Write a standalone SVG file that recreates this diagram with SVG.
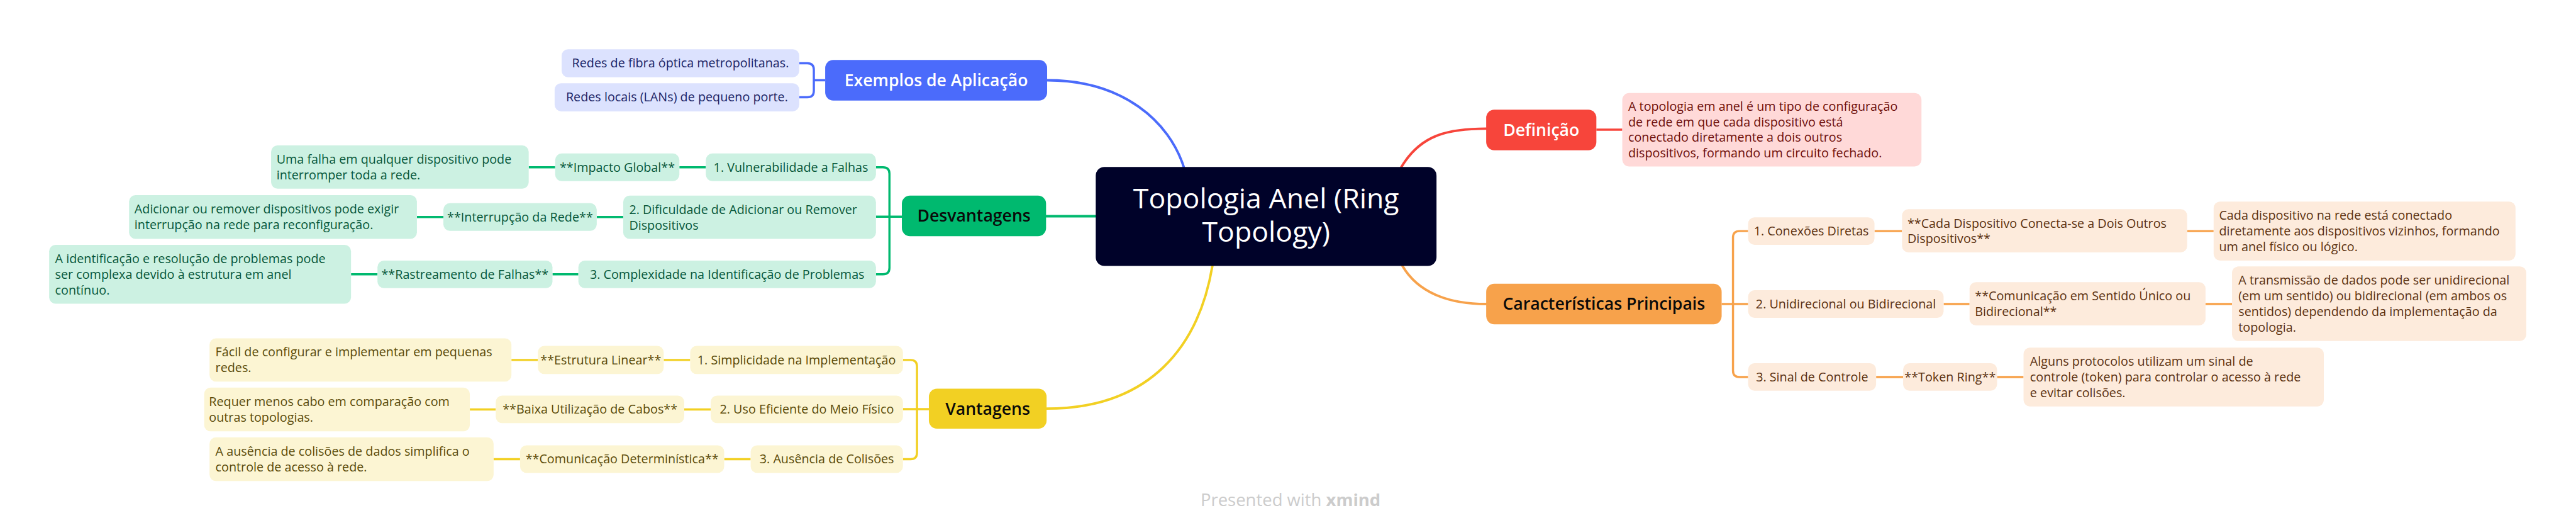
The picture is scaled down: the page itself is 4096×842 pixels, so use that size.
<svg xmlns="http://www.w3.org/2000/svg" width="4096" height="842" viewBox="0 0 4096 842">
<style>
text{font-family:"Open Sans","Liberation Sans",sans-serif}
.c{fill:none;stroke-width:4.5;stroke-linecap:round}
.s{fill:none;stroke-width:4;stroke-linecap:butt}
.cb{stroke:#4B6BFB}.cr{stroke:#F7453B}.co{stroke:#F7A24B}.cg{stroke:#00B96F}.cy{stroke:#F2D023}
.t{font-size:23px}
.m{font-size:31px;font-weight:600}
.mid{text-anchor:middle}
.bl{fill:#4B6BFB}.bll{fill:#DCE2FE}.blt{fill:#1B2466}
.rd{fill:#F7453B}.rdl{fill:#FFD9D8}.rdt{fill:#6E0E0A}
.or{fill:#F7A24B}.orl{fill:#FDEBDC}.ort{fill:#5B3110}
.gr{fill:#00B96F}.grl{fill:#CCF1E2}.grt{fill:#06573A}
.ye{fill:#F2D023}.yel{fill:#FCF5D3}.yet{fill:#5A4A08}
.w{fill:#FFFFFF}.k{fill:#0A0A0A}
</style>
<rect width="4096" height="842" fill="#FFFFFF"/>
<g transform="scale(0.8587)">
<g id="connectors">
<path class="c cb" d="M1939 148.5 C2080 148.5 2165 225 2192 309"/>
<path class="c cr" d="M2595 309 C2630 250 2680 238 2752 238"/>
<path class="c co" d="M2597 492 C2625 540 2680 562.5 2752 562.5"/>
<path class="c cg" d="M1937 400 H2029"/>
<path class="c cy" d="M2245 492 C2220 640 2130 756 1938 756"/>
<path class="s cb" d="M1528 148.5 H1507 M1480 117 H1495 Q1507 117 1507 129 V168 Q1507 180 1495 180 H1480"/>
<path class="s cr" d="M2956 240 H3004"/>
<path class="s co" d="M3188 562.5 H3237 M3237 427.5 H3221 Q3209 427.5 3209 439.5 V685.5 Q3209 697.5 3221 697.5 H3237"/>
<path class="s co" d="M3471 427.5 H3522 M3599 562.5 H3647 M3474 697.5 H3524 M4050 427.5 H4099 M4084 562.5 H4133 M3698 697.5 H3747"/>
<path class="s cg" d="M1670 401 H1622 M1622 309.5 H1635 Q1647 309.5 1647 321.5 V495.5 Q1647 507.5 1635 507.5 H1622"/>
<path class="s cg" d="M1258 309.5 H1307 M1105 401.5 H1154 M1023 507.5 H1071 M979 309.5 H1028 M772 401.5 H821 M650 507.5 H699"/>
<path class="s cy" d="M1720 757 H1672 M1672 666 H1686 Q1698 666 1698 678 V837.5 Q1698 849.5 1686 849.5 H1672"/>
<path class="s cy" d="M1229 666 H1278 M1267 757.5 H1316 M1341 849.5 H1390 M947 666 H996 M870 757.5 H918 M914 849.5 H963"/>
</g>
<g id="central">
<rect x="2029" y="309" width="631" height="183" rx="16" fill="#000229"/>
<text class="mid w" x="2344.5" y="385" font-size="52" font-weight="500">Topologia Anel (Ring</text>
<text class="mid w" x="2344.5" y="447" font-size="52" font-weight="500">Topology)</text>
</g>
<g id="exemplos">
<rect class="bl" x="1528" y="111" width="411" height="75" rx="15"/>
<text class="m mid w" x="1733.5" y="159.5">Exemplos de Aplicação</text>
</g>
<g id="ex1">
<rect class="bll" x="1040" y="91" width="440" height="52" rx="12"/>
<text class="t mid blt" x="1260" y="125">Redes de fibra óptica metropolitanas.</text>
</g>
<g id="ex2">
<rect class="bll" x="1027" y="154" width="453" height="52" rx="12"/>
<text class="t mid blt" x="1253.5" y="188">Redes locais (LANs) de pequeno porte.</text>
</g>
<g id="definicao">
<rect class="rd" x="2752" y="203" width="204" height="75" rx="15"/>
<text class="m mid w" x="2854" y="251">Definição</text>
</g>
<g id="def-texto">
<rect class="rdl" x="3004" y="172" width="554" height="136" rx="13"/>
<text class="t rdt" x="3015" y="204.5"><tspan x="3015">A topologia em anel é um tipo de configuração</tspan><tspan x="3015" dy="29">de rede em que cada dispositivo está</tspan><tspan x="3015" dy="29">conectado diretamente a dois outros</tspan><tspan x="3015" dy="29">dispositivos, formando um circuito fechado.</tspan></text>
</g>
<g id="caracteristicas">
<rect class="or" x="2752" y="525" width="436" height="75" rx="15"/>
<text class="m mid k" x="2970" y="573">Características Principais</text>
</g>
<g id="car1">
<rect class="orl" x="3237" y="402" width="234" height="51" rx="12"/>
<text class="t mid ort" x="3354" y="435.5">1. Conexões Diretas</text>
</g>
<g id="car1a">
<rect class="orl" x="3522" y="387" width="528" height="80" rx="12"/>
<text class="t ort" x="3532" y="421"><tspan x="3532">**Cada Dispositivo Conecta-se a Dois Outros</tspan><tspan x="3532" dy="29">Dispositivos**</tspan></text>
</g>
<g id="car1b">
<rect class="orl" x="4099" y="373" width="559" height="109" rx="12"/>
<text class="t ort" x="4109" y="406.5"><tspan x="4109">Cada dispositivo na rede está conectado</tspan><tspan x="4109" dy="29">diretamente aos dispositivos vizinhos, formando</tspan><tspan x="4109" dy="29">um anel físico ou lógico.</tspan></text>
</g>
<g id="car2">
<rect class="orl" x="3237" y="537" width="362" height="51" rx="12"/>
<text class="t mid ort" x="3418" y="570.5">2. Unidirecional ou Bidirecional</text>
</g>
<g id="car2a">
<rect class="orl" x="3647" y="522" width="437" height="80" rx="12"/>
<text class="t ort" x="3657" y="556"><tspan x="3657">**Comunicação em Sentido Único ou</tspan><tspan x="3657" dy="29">Bidirecional**</tspan></text>
</g>
<g id="car2b">
<rect class="orl" x="4133" y="493" width="545" height="138" rx="12"/>
<text class="t ort" x="4145" y="526.5"><tspan x="4145">A transmissão de dados pode ser unidirecional</tspan><tspan x="4145" dy="29">(em um sentido) ou bidirecional (em ambos os</tspan><tspan x="4145" dy="29">sentidos) dependendo da implementação da</tspan><tspan x="4145" dy="29">topologia.</tspan></text>
</g>
<g id="car3">
<rect class="orl" x="3237" y="672" width="237" height="51" rx="12"/>
<text class="t mid ort" x="3355.5" y="705.5">3. Sinal de Controle</text>
</g>
<g id="car3a">
<rect class="orl" x="3524" y="672" width="174" height="51" rx="12"/>
<text class="t mid ort" x="3611" y="705.5">**Token Ring**</text>
</g>
<g id="car3b">
<rect class="orl" x="3747" y="643" width="556" height="109" rx="12"/>
<text class="t ort" x="3759" y="676.5"><tspan x="3759">Alguns protocolos utilizam um sinal de</tspan><tspan x="3759" dy="29">controle (token) para controlar o acesso à rede</tspan><tspan x="3759" dy="29">e evitar colisões.</tspan></text>
</g>
<g id="desvantagens">
<rect class="gr" x="1670" y="362" width="267" height="75" rx="15"/>
<text class="m mid k" x="1803.5" y="410.5">Desvantagens</text>
</g>
<g id="des1">
<rect class="grl" x="1307" y="284" width="315" height="51" rx="12"/>
<text class="t mid grt" x="1464.5" y="317.5">1. Vulnerabilidade a Falhas</text>
</g>
<g id="des1a">
<rect class="grl" x="1028" y="284" width="230" height="51" rx="12"/>
<text class="t mid grt" x="1143" y="317.5">**Impacto Global**</text>
</g>
<g id="des1b">
<rect class="grl" x="502" y="269" width="477" height="80" rx="12"/>
<text class="t grt" x="512" y="302.5"><tspan x="512">Uma falha em qualquer dispositivo pode</tspan><tspan x="512" dy="29">interromper toda a rede.</tspan></text>
</g>
<g id="des2">
<rect class="grl" x="1154" y="362" width="468" height="80" rx="12"/>
<text class="t grt" x="1165" y="395.5"><tspan x="1165">2. Dificuldade de Adicionar ou Remover</tspan><tspan x="1165" dy="29">Dispositivos</tspan></text>
</g>
<g id="des2a">
<rect class="grl" x="821" y="376" width="284" height="51" rx="12"/>
<text class="t mid grt" x="963" y="409.5">**Interrupção da Rede**</text>
</g>
<g id="des2b">
<rect class="grl" x="239" y="361" width="533" height="81" rx="12"/>
<text class="t grt" x="249" y="395"><tspan x="249">Adicionar ou remover dispositivos pode exigir</tspan><tspan x="249" dy="29">interrupção na rede para reconfiguração.</tspan></text>
</g>
<g id="des3">
<rect class="grl" x="1071" y="482" width="551" height="51" rx="12"/>
<text class="t mid grt" x="1346.5" y="515.5">3. Complexidade na Identificação de Problemas</text>
</g>
<g id="des3a">
<rect class="grl" x="699" y="482" width="324" height="51" rx="12"/>
<text class="t mid grt" x="861" y="515.5">**Rastreamento de Falhas**</text>
</g>
<g id="des3b">
<rect class="grl" x="91" y="453" width="559" height="109" rx="12"/>
<text class="t grt" x="102" y="486.5"><tspan x="102">A identificação e resolução de problemas pode</tspan><tspan x="102" dy="29">ser complexa devido à estrutura em anel</tspan><tspan x="102" dy="29">contínuo.</tspan></text>
</g>
<g id="vantagens">
<rect class="ye" x="1720" y="719" width="218" height="74" rx="15"/>
<text class="m mid k" x="1829" y="767">Vantagens</text>
</g>
<g id="van1">
<rect class="yel" x="1278" y="640" width="394" height="52" rx="12"/>
<text class="t mid yet" x="1475" y="674">1. Simplicidade na Implementação</text>
</g>
<g id="van1a">
<rect class="yel" x="996" y="640" width="233" height="52" rx="12"/>
<text class="t mid yet" x="1112.5" y="674">**Estrutura Linear**</text>
</g>
<g id="van1b">
<rect class="yel" x="388" y="626" width="559" height="80" rx="12"/>
<text class="t yet" x="399" y="659.5"><tspan x="399">Fácil de configurar e implementar em pequenas</tspan><tspan x="399" dy="29">redes.</tspan></text>
</g>
<g id="van2">
<rect class="yel" x="1316" y="732" width="356" height="51" rx="12"/>
<text class="t mid yet" x="1494" y="765.5">2. Uso Eficiente do Meio Físico</text>
</g>
<g id="van2a">
<rect class="yel" x="918" y="732" width="349" height="51" rx="12"/>
<text class="t mid yet" x="1092.5" y="765.5">**Baixa Utilização de Cabos**</text>
</g>
<g id="van2b">
<rect class="yel" x="378" y="717" width="492" height="81" rx="12"/>
<text class="t yet" x="387" y="751"><tspan x="387">Requer menos cabo em comparação com</tspan><tspan x="387" dy="29">outras topologias.</tspan></text>
</g>
<g id="van3">
<rect class="yel" x="1390" y="824" width="282" height="51" rx="12"/>
<text class="t mid yet" x="1531" y="857.5">3. Ausência de Colisões</text>
</g>
<g id="van3a">
<rect class="yel" x="963" y="824" width="378" height="51" rx="12"/>
<text class="t mid yet" x="1152" y="857.5">**Comunicação Determinística**</text>
</g>
<g id="van3b">
<rect class="yel" x="388" y="809" width="526" height="81" rx="12"/>
<text class="t yet" x="399" y="843"><tspan x="399">A ausência de colisões de dados simplifica o</tspan><tspan x="399" dy="29">controle de acesso à rede.</tspan></text>
</g>
<g id="footer">
<text x="2223" y="936" font-size="32" fill="#CCCCCC">Presented with <tspan font-weight="700">xmind</tspan></text>
</g>
</g>
</svg>
